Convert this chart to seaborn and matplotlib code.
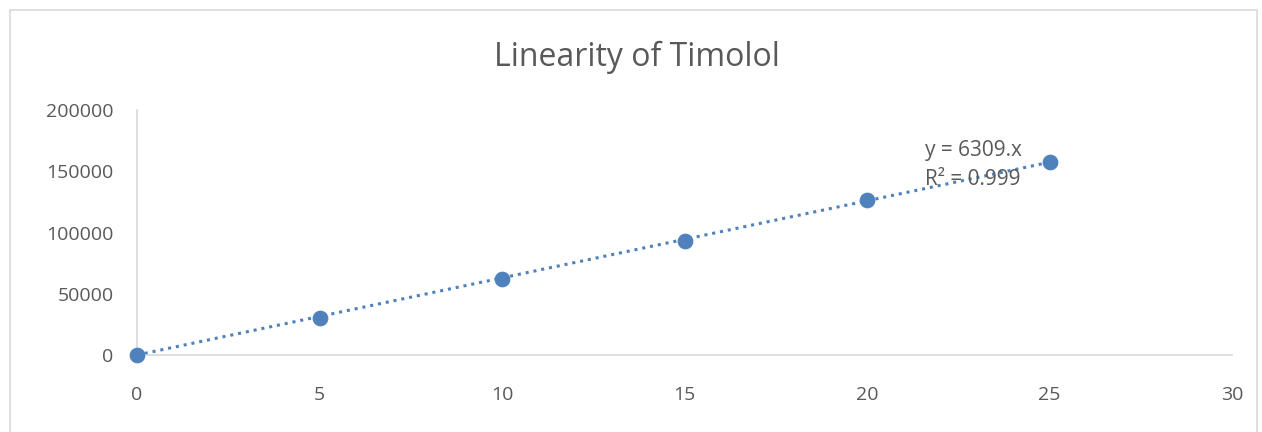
import numpy as np
import matplotlib
matplotlib.use("Agg")
import matplotlib.pyplot as plt
from matplotlib.patches import Rectangle
import seaborn as sns

# concentration vs peak area
conc = [0, 5, 10, 15, 20, 25]
area = [0, 30500, 62300, 93300, 126700, 157800]

sns.set_style("white")
plt.rcParams['font.family'] = ['Open Sans', 'DejaVu Sans']

fig = plt.figure(figsize=(12.62, 4.32), dpi=100)
ax = fig.add_axes([137/1262, 1-355/432, (1232-137)/1262, (355-110)/432])

blue = '#4F81BD'
grey = '#595959'

# trendline through origin, like excel's "set intercept = 0"
x = np.array(conc, dtype=float)
y = np.array(area, dtype=float)
slope = (x * y).sum() / (x * x).sum()
sns.lineplot(x=x, y=slope * x, ax=ax, color=blue, lw=2.2, linestyle=(0, (1, 1.6)), zorder=2)
sns.scatterplot(x=conc, y=area, ax=ax, color=blue, s=110, edgecolor=blue, zorder=3)
for c in ax.collections:
    c.set_clip_on(False)

ax.set_xlim(0, 30)
ax.set_ylim(0, 200000)
ax.set_xticks(range(0, 31, 5))
ax.set_yticks(range(0, 200001, 50000))
ax.tick_params(colors=grey, labelsize=14, length=0)
ax.tick_params(axis='x', pad=22)
ax.tick_params(axis='y', pad=17)
for s in ['top', 'right']:
    ax.spines[s].set_visible(False)
for s in ['left', 'bottom']:
    ax.spines[s].set_color('#d9d9d9')
    ax.spines[s].set_linewidth(1.2)
ax.set_xlabel('')
ax.set_ylabel('')

ax.text(21.6, 167000, 'y = 6309.x', color=grey, fontsize=15, va='center')
ax.text(21.6, 143000, 'R² = 0.999', color=grey, fontsize=15, va='center')

fig.text(0.505, 1-57/432, 'Linearity of Timolol', ha='center', va='center', color=grey, fontsize=23)

fig.patches.append(Rectangle((10/1262, -0.05), 1247/1262, 1.05-10/432, transform=fig.transFigure,
                             fill=False, edgecolor='#d9d9d9', lw=1.2))

fig.savefig('out.png', dpi=100)
